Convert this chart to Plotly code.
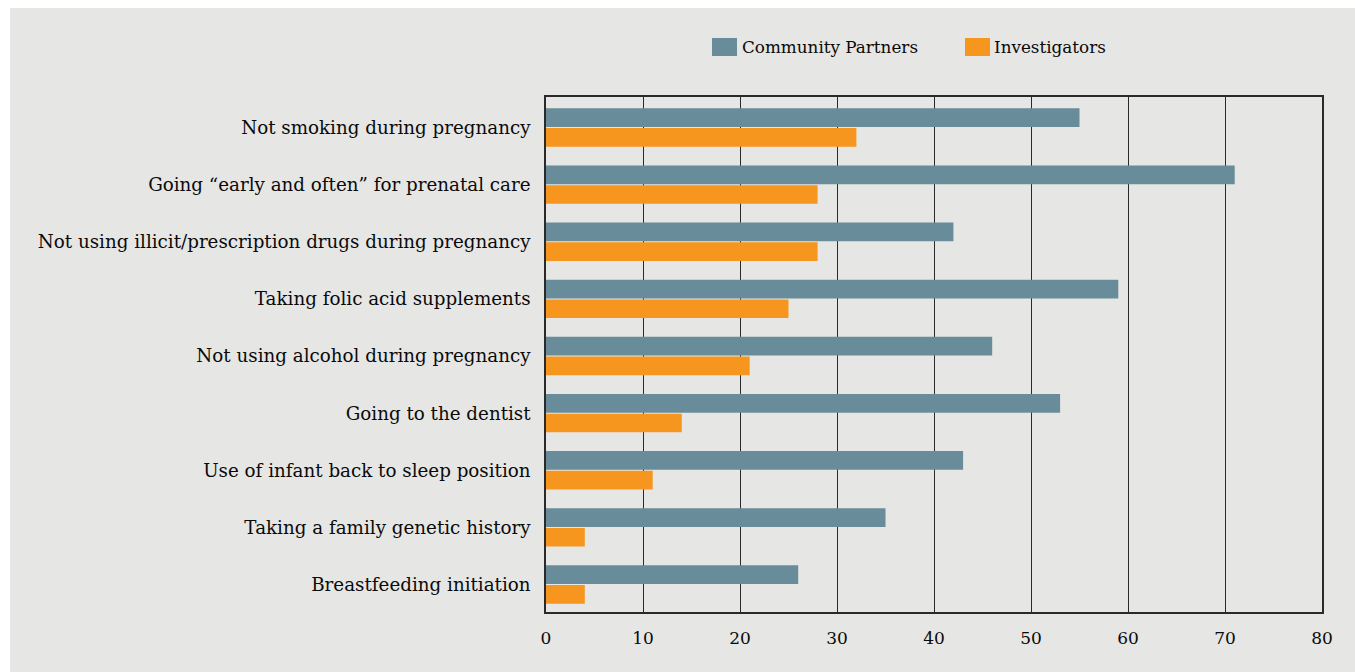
import plotly.graph_objects as go

categories = [
    "Not smoking during pregnancy",
    "Going \u201cearly and often\u201d for prenatal care",
    "Not using illicit/prescription drugs during pregnancy",
    "Taking folic acid supplements",
    "Not using alcohol during pregnancy",
    "Going to the dentist",
    "Use of infant back to sleep position",
    "Taking a family genetic history",
    "Breastfeeding initiation",
]
community_partners = [55, 71, 42, 59, 46, 53, 43, 35, 26]
investigators = [32, 28, 28, 25, 21, 14, 11, 4, 4]
series_names = ["Community Partners", "Investigators"]
x_ticks = [0, 10, 20, 30, 40, 50, 60, 70, 80]

C_BLUE = "#698c9b"
C_ORANGE = "#f7961e"
BG = "#e6e6e4"
FONT = "DejaVu Serif"
TXT = "#0a0a0a"

W, H = 1355, 672
L, R, T, B = 546, 33, 97, 60
pw, ph = W - L - R, H - T - B

fig = go.Figure()
fig.add_trace(go.Bar(y=categories, x=community_partners, orientation="h",
                     name=series_names[0], marker=dict(color=C_BLUE, line=dict(width=0))))
fig.add_trace(go.Bar(y=categories, x=investigators, orientation="h",
                     name=series_names[1], marker=dict(color=C_ORANGE, line=dict(width=0))))

def px_x(p):
    return (p - L) / pw

def px_y(p):
    return (H - B - p) / ph

shapes = [
    dict(type="rect", xref="paper", yref="paper", layer="below",
         x0=px_x(10), x1=px_x(W + 5), y0=px_y(H + 5), y1=px_y(8),
         fillcolor=BG, line=dict(width=0)),
    dict(type="rect", xref="paper", yref="paper",
         x0=px_x(712), x1=px_x(737), y0=px_y(56), y1=px_y(38),
         fillcolor=C_BLUE, line=dict(width=0)),
    dict(type="rect", xref="paper", yref="paper",
         x0=px_x(965), x1=px_x(990), y0=px_y(56), y1=px_y(38),
         fillcolor=C_ORANGE, line=dict(width=0)),
]
annotations = [
    dict(xref="paper", yref="paper", x=px_x(740), y=px_y(47), text=series_names[0],
         showarrow=False, xanchor="left", yanchor="middle",
         font=dict(family=FONT, size=16.8, color=TXT)),
    dict(xref="paper", yref="paper", x=px_x(992), y=px_y(47), text=series_names[1],
         showarrow=False, xanchor="left", yanchor="middle",
         font=dict(family=FONT, size=16.8, color=TXT)),
]

fig.update_layout(
    width=W, height=H,
    margin=dict(l=L, r=R, t=T, b=B, pad=0),
    paper_bgcolor="white",
    plot_bgcolor="rgba(0,0,0,0)",
    barmode="group", bargap=0.31, bargroupgap=0.05,
    showlegend=False,
    font=dict(family=FONT, size=18.3, color=TXT),
    shapes=shapes, annotations=annotations,
    xaxis=dict(range=[0, 80], tickvals=x_ticks, ticktext=[str(v) for v in x_ticks],
               showgrid=True, gridcolor="#2a2a2a", gridwidth=1,
               showline=True, linecolor="#2a2a2a", linewidth=1.5, mirror=True,
               zeroline=False, ticks="", ticklabelstandoff=10,
               tickfont=dict(family=FONT, size=17, color=TXT)),
    yaxis=dict(range=[8.481, -0.534], showgrid=False, showline=True, linecolor="#2a2a2a",
               linewidth=1.5, mirror=True, ticks="", ticklabelstandoff=10,
               tickfont=dict(family=FONT, size=18.3, color=TXT)),
)

fig.write_html("out.html")
